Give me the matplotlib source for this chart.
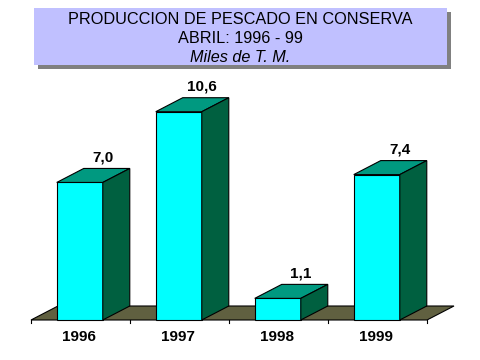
"""3D-style bar chart: producción de pescado en conserva, abril 1996-99."""
import matplotlib
matplotlib.use("Agg")
import matplotlib.pyplot as plt
from matplotlib.patches import Polygon, Rectangle

years = ["1996", "1997", "1998", "1999"]
values = [7.0, 10.6, 1.1, 7.4]
value_labels = ["7,0", "10,6", "1,1", "7,4"]
title_lines = ["PRODUCCION DE PESCADO EN CONSERVA", "ABRIL: 1996 - 99", "Miles de T. M."]

FRONT = "#00FFFF"
TOP = "#009980"
SIDE = "#006040"
FLOOR = "#606040"
BOX = "#C0C0FF"
SHADOW = "#808080"

plt.rcParams["font.family"] = ["Liberation Sans", "DejaVu Sans"]

W, H = 480, 360
fig = plt.figure(figsize=(4.8, 3.6), dpi=100)
ax = fig.add_axes([0, 0, 1, 1])
# pixel scale: one category slot = 99 px, one unit of value = 19.65 px
px_x, px_y = 99.0, 19.65
x0_px, y0_px = 31.0, 320.0
ax.set_xlim(-x0_px / px_x, (W - x0_px) / px_x)
ax.set_ylim(-(H - y0_px) / px_y, y0_px / px_y)
ax.axis("off")

dx, dy = 27 / px_x, 14 / px_y     # depth offset
lw = 0.8
n = len(years)

# floor
floor = Polygon([(0, 0), (n, 0), (n + dx, dy), (dx, dy)], closed=True,
                facecolor=FLOOR, edgecolor="black", lw=lw)
ax.add_patch(floor)
for b in range(n + 1):
    ax.plot([b, b], [0, -3 / px_y], color="black", lw=lw)

left, width = 0.26, 0.465
for i, (v, lab) in enumerate(zip(values, value_labels)):
    x1, x2 = i + left, i + left + width
    ax.add_patch(Polygon([(x1, 0), (x2, 0), (x2, v), (x1, v)], closed=True,
                         facecolor=FRONT, edgecolor="black", lw=lw))
    ax.add_patch(Polygon([(x1, v), (x2, v), (x2 + dx, v + dy), (x1 + dx, v + dy)],
                         closed=True, facecolor=TOP, edgecolor="black", lw=lw))
    ax.add_patch(Polygon([(x2, 0), (x2 + dx, dy), (x2 + dx, v + dy), (x2, v)],
                         closed=True, facecolor=SIDE, edgecolor="black", lw=lw))
    ax.text((x1 + x2) / 2 + 0.23, v + dy + 11 / px_y, lab, ha="center", va="center",
            fontsize=11, fontweight="bold")
    ax.text(i + 0.48, -17 / px_y, years[i], ha="center", va="center",
            fontsize=11, fontweight="bold")

# title box with shadow
fig.patches.append(Rectangle((38 / W, 1 - 69 / H), 413 / W, 57 / H,
                             transform=fig.transFigure, facecolor=SHADOW,
                             edgecolor="none", zorder=0))
fig.patches.append(Rectangle((34 / W, 1 - 65 / H), 413 / W, 57 / H,
                             transform=fig.transFigure, facecolor=BOX,
                             edgecolor="none", zorder=1))
tx = (34 + 413 / 2) / W
fig.text(tx, 1 - 19.5 / H, title_lines[0], ha="center", va="center", fontsize=11.7)
fig.text(tx, 1 - 38.5 / H, title_lines[1], ha="center", va="center", fontsize=11.7)
fig.text(tx, 1 - 57 / H, title_lines[2], ha="center", va="center", fontsize=11.7,
         style="italic")

fig.savefig("out.png", dpi=100)
